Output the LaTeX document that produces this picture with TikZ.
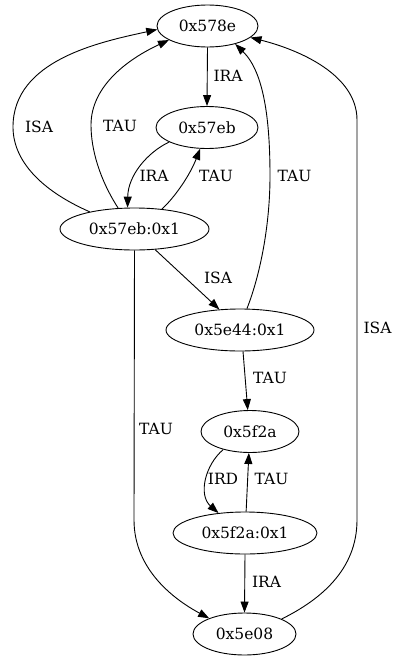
\documentclass[tikz,border=0pt]{standalone}
\usepackage{fontspec}
\setmainfont{DejaVu Serif}
\usetikzlibrary{arrows.meta,shapes.geometric}

\begin{document}
\begin{tikzpicture}[
  x=1pt,y=-1pt,
  >={Triangle[length=11pt,width=8pt]},
  font=\fontsize{15.5}{18}\selectfont,
  line width=0.9pt,
  state/.style={draw,ellipse,inner sep=0pt,minimum height=42pt},
  edge/.style={->},
  lbl/.style={inner sep=0pt}
]
  \useasboundingbox (0,0) rectangle (394,656);
  \node[state,minimum width=101pt] (n578e) at (207.5,26) {0x578e};
  \node[state,minimum width=102pt] (n57eb) at (207,127.5) {0x57eb};
  \node[state,minimum width=149pt] (n57ebx) at (134.5,229) {0x57eb:0x1};
  \node[state,minimum width=148pt] (n5e44x) at (240,330) {0x5e44:0x1};
  \node[state,minimum width=98pt] (n5f2a) at (250,431.5) {0x5f2a};
  \node[state,minimum width=144pt] (n5f2ax) at (245,533) {0x5f2a:0x1};
  \node[state,minimum width=103pt] (n5e08) at (244.5,634) {0x5e08};
  \draw[edge] (n578e.south) -- (n57eb.north);
  \draw[edge] (n57ebx.159) .. controls (40,190) and (13,160) .. (13,127)
    .. controls (13,60) and (100,42) .. (n578e.184);
  \draw[edge] (n57ebx.128) .. controls (100,180) and (91,150) .. (91,125)
    .. controls (91,85) and (130,58) .. (n578e.200);
  \draw[edge] (n57eb.201) .. controls (148,152) and (128,175) .. (n57ebx.108);
  \draw[edge] (n57ebx.36) .. controls (175,197) and (190,175) .. (n57eb.252);
  \draw[edge] (n5e44x.72) .. controls (262,270) and (270,220) .. (270,176)
    .. controls (270,120) and (264,72) .. (n578e.-33);
  \draw[edge] (n5e08.22) .. controls (320,600) and (357,570) .. (357,520)
    -- (357,120) .. controls (357,75) and (300,50) .. (n578e.-15);
  \draw[edge] (n57ebx.-45) -- (n5e44x.135);
  \draw[edge] (n57ebx.south) -- (134,520) .. controls (134,570) and (175,600)
    .. (n5e08.156);
  \draw[edge] (n5e44x.-82) -- (n5f2a.96);
  \draw[edge] (n5f2a.214) .. controls (205,465) and (198,495) .. (n5f2ax.143);
  \draw[edge] (n5f2ax.87) -- (n5f2a.-93);
  \draw[edge] (n5f2ax.south) -- (n5e08.north);
  \node[lbl] (l1) at (228,76) {IRA};
  \node[lbl] (l2) at (39,127) {ISA};
  \node[lbl] (l3) at (120,126) {TAU};
  \node[lbl] (l4) at (154,176) {IRA};
  \node[lbl] (l5) at (216,176) {TAU};
  \node[lbl] (l6) at (294.5,176) {TAU};
  \node[lbl] (l7) at (377.5,328) {ISA};
  \node[lbl] (l8) at (218,278) {ISA};
  \node[lbl] (l9) at (156,429) {TAU};
  \node[lbl] (l10) at (270,378) {TAU};
  \node[lbl] (l11) at (223,479) {IRD};
  \node[lbl] (l12) at (271.5,479) {TAU};
  \node[lbl] (l13) at (266.5,582) {IRA};
\end{tikzpicture}
\end{document}
